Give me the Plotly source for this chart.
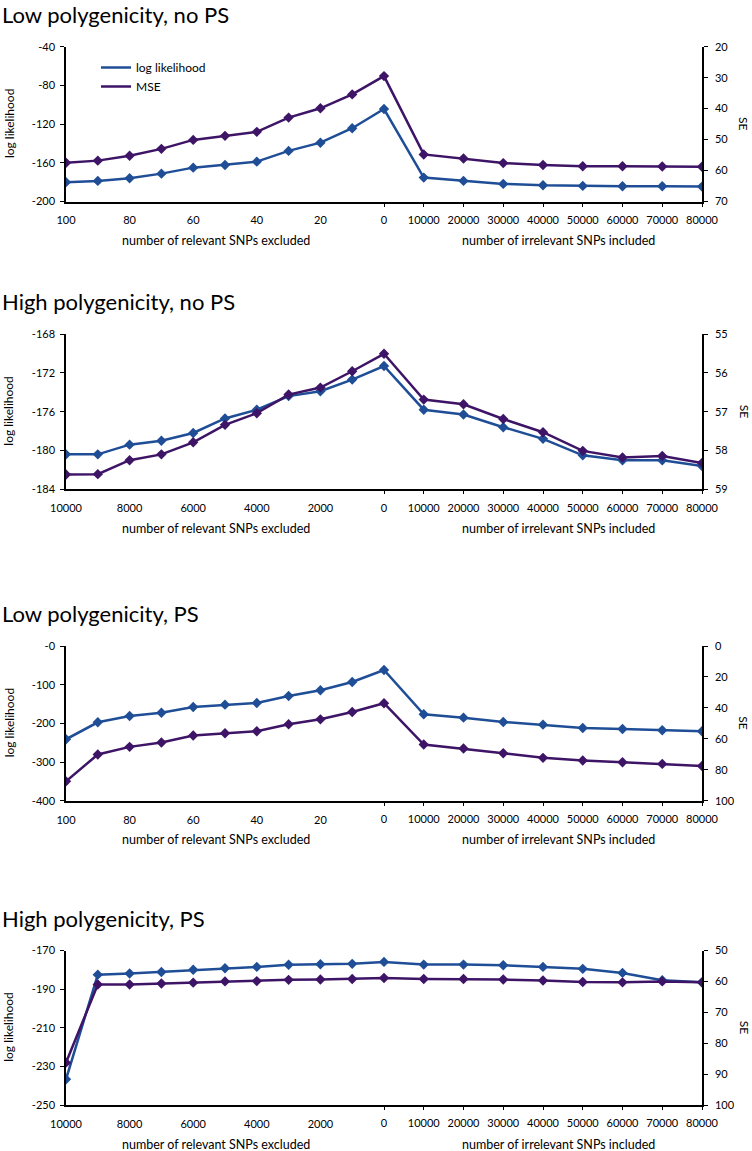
import plotly.graph_objects as go

W, H = 752, 1151

# ---------------- data ----------------
titles = ["Low polygenicity, no PS", "High polygenicity, no PS",
          "Low polygenicity, PS", "High polygenicity, PS"]

rel_low = [100, 90, 80, 70, 60, 50, 40, 30, 20, 10, 0]
rel_high = [10000, 9000, 8000, 7000, 6000, 5000, 4000, 3000, 2000, 1000, 0]
irrelevant = [10000, 20000, 30000, 40000, 50000, 60000, 70000, 80000]

ll_low_nops = [-180, -178.7, -176, -171.2, -165, -162.2, -158.8, -147.7, -139.2, -124.3, -104.4,
               -175.3, -178.7, -181.8, -183.2, -183.9, -184.2, -184.2, -184.6]
mse_low_nops = [57.5, 56.8, 55.2, 53.0, 50.1, 48.8, 47.5, 42.9, 39.9, 35.4, 29.5,
                54.8, 56.1, 57.6, 58.2, 58.6, 58.6, 58.7, 58.8]

ll_high_nops = [-180.4, -180.4, -179.4, -179.0, -178.2, -176.7, -175.8, -174.4, -173.9, -172.7, -171.3,
                -175.8, -176.3, -177.6, -178.8, -180.5, -181.0, -181.0, -181.6]
mse_high_nops = [58.62, 58.61, 58.25, 58.10, 57.79, 57.34, 57.04, 56.56, 56.38, 55.96, 55.51,
                 56.69, 56.81, 57.19, 57.53, 58.01, 58.18, 58.14, 58.32]

ll_low_ps = [-241.2, -197.3, -181, -172.4, -157.7, -151.7, -147.4, -129.3, -114.6, -93.1, -62,
             -176.6, -185.3, -196.5, -203.4, -212, -214.6, -218, -220.6]
mse_low_ps = [87.5, 70.1, 65.2, 62.4, 57.9, 56.4, 55.1, 50.6, 47.4, 42.7, 37.0,
              63.7, 66.3, 69.3, 72.3, 74.0, 75.1, 76.2, 77.6]

ll_high_ps = [-236.7, -182.5, -181.9, -181.1, -180.0, -179.2, -178.5, -177.4, -177.1, -176.9, -175.9,
              -177.3, -177.3, -177.6, -178.5, -179.5, -181.6, -185.4, -186.5]
mse_high_ps = [86.3, 61.0, 61.0, 60.7, 60.4, 60.0, 59.9, 59.5, 59.4, 59.2, 58.9,
               59.2, 59.2, 59.4, 59.7, 60.2, 60.3, 60.0, 60.3]

ll_ticks = [[-200, -160, -120, -80, -40], [-184, -180, -176, -172, -168],
            [-400, -300, -200, -100, 0], [-250, -230, -210, -190, -170]]
se_ranges = [(70, 20, 10), (59, 55, 1), (100, 0, 20), (100, 50, 10)]

panels = [
    (rel_low, ll_low_nops, mse_low_nops),
    (rel_high, ll_high_nops, mse_high_nops),
    (rel_low, ll_low_ps, mse_low_ps),
    (rel_high, ll_high_ps, mse_high_ps),
]

# ---------------- style ----------------
BLUE = "#1F4E97"
PURPLE = "#3E1466"
FONT = "Lato"
X0, X1 = 66 / W, 702 / W
tops_px = [46.7, 334.0, 646.0, 950.5]
bots_px = [201.5, 489.3, 800.7, 1105.0]


def py(px):
    return 1 - px / H


fig = go.Figure()
layout = dict(
    template="none",
    width=W, height=H, margin=dict(l=0, r=0, t=0, b=0, autoexpand=False),
    paper_bgcolor="white", plot_bgcolor="white",
    font=dict(family=FONT, size=11, color="black"),
    showlegend=True,
    legend=dict(x=96 / W, y=py(53), xanchor="left", yanchor="top",
                bgcolor="rgba(0,0,0,0)", font=dict(size=12, family=FONT, color="black"),
                itemwidth=30, tracegroupgap=0),
)
annotations = []

for k, (rel, ll, mse) in enumerate(panels):
    xa, xb = 2 * k + 1, 2 * k + 2
    ya, yb = 2 * k + 1, 2 * k + 2
    n_left = len(rel) - 1
    n_right = len(irrelevant)
    # layout positions: left half holds relevant-SNP steps, right half irrelevant steps
    xpos = [i / n_left for i in range(len(rel))] + [1 + (j + 1) / n_right for j in range(n_right)]

    dom_y = [py(bots_px[k]), py(tops_px[k])]

    fig.add_trace(go.Scatter(x=xpos, y=ll, mode="lines+markers", name="log likelihood",
                             line=dict(color=BLUE, width=2.5),
                             marker=dict(symbol="diamond", size=8, color=BLUE),
                             xaxis=f"x{xa}", yaxis=f"y{ya}", showlegend=False))
    fig.add_trace(go.Scatter(x=xpos, y=mse, mode="lines+markers", name="MSE",
                             line=dict(color=PURPLE, width=2.5),
                             marker=dict(symbol="diamond", size=8, color=PURPLE),
                             xaxis=f"x{xa}", yaxis=f"y{yb}", showlegend=False))
    # invisible carrier so the tick-mark axis of the right half is drawn
    fig.add_trace(go.Scatter(x=xpos, y=ll, mode="markers", marker=dict(opacity=0),
                             hoverinfo="skip", showlegend=False,
                             xaxis=f"x{xb}", yaxis=f"y{ya}"))

    left_vals = [xpos[i] for i in range(0, n_left, 2)]
    left_text = [str(rel[i]) for i in range(0, n_left, 2)]
    right_vals = [xpos[n_left]] + xpos[n_left + 1:]
    right_text = ["0"] + [str(v) for v in irrelevant]

    common_x = dict(range=[0, 2], showgrid=False, zeroline=False, ticklen=4, tickwidth=1.3,
                    ticks="outside", ticklabelstandoff=4, automargin=False,
                    tickfont=dict(size=11, family=FONT, color="black"))
    layout[f"xaxis{xa}"] = dict(domain=[X0, X1], anchor=f"y{ya}", showline=True, linecolor="black",
                                linewidth=1.5, tickmode="array", tickvals=left_vals, ticktext=left_text,
                                tickcolor="rgba(0,0,0,0)", **common_x)
    layout[f"xaxis{xb}"] = dict(overlaying=f"x{xa}", anchor=f"y{ya}", side="bottom", showline=False,
                                tickmode="array", tickvals=right_vals, ticktext=right_text,
                                tickcolor="black", **common_x)

    tv = ll_ticks[k]
    layout[f"yaxis{ya}"] = dict(domain=dom_y, anchor=f"x{xa}", range=[tv[0], tv[-1]],
                                tickmode="array", tickvals=tv, ticktext=[f"-{abs(v)}" for v in tv],
                                showline=True, linecolor="black", linewidth=1.5, ticks="outside",
                                ticklen=4, tickwidth=1.3, tickcolor="black", showgrid=False,
                                zeroline=False, ticklabelstandoff=3, automargin=False,
                                tickfont=dict(size=11, family=FONT, color="black"))
    lo, hi, dt = se_ranges[k]
    layout[f"yaxis{yb}"] = dict(overlaying=f"y{ya}", anchor=f"x{xa}", side="right",
                                range=[lo, hi], dtick=dt, tick0=0, tickmode="linear",
                                showline=True, linecolor="black", linewidth=1.5, ticks="outside",
                                ticklen=4, tickwidth=1.3, tickcolor="black", showgrid=False,
                                zeroline=False, ticklabelstandoff=5, automargin=False,
                                tickfont=dict(size=11, family=FONT, color="black"))

    # panel title
    annotations.append(dict(text=titles[k], x=0, y=py(tops_px[k] - 32.5), xref="paper", yref="paper",
                            xanchor="left", yanchor="middle", showarrow=False,
                            font=dict(size=22, family=FONT, color="black")))
    # axis titles
    ymid = py((tops_px[k] + bots_px[k]) / 2)
    yb_t = py(bots_px[k] + 39)
    annotations.append(dict(text="number of relevant SNPs excluded", x=216 / W, y=yb_t,
                            xref="paper", yref="paper", xanchor="center", yanchor="middle",
                            showarrow=False, font=dict(size=12.5, family=FONT, color="black")))
    annotations.append(dict(text="number of irrelevant SNPs included", x=558 / W, y=yb_t,
                            xref="paper", yref="paper", xanchor="center", yanchor="middle",
                            showarrow=False, font=dict(size=12.5, family=FONT, color="black")))
    annotations.append(dict(text="log likelihood", x=9 / W, y=ymid, xref="paper", yref="paper",
                            xanchor="center", yanchor="middle", textangle=-90, showarrow=False,
                            font=dict(size=12, family=FONT, color="black")))
    annotations.append(dict(text="SE", x=744 / W, y=ymid, xref="paper", yref="paper",
                            xanchor="center", yanchor="middle", textangle=90, showarrow=False,
                            font=dict(size=12, family=FONT, color="black")))

# legend entries (line only, as in the reference)
fig.add_trace(go.Scatter(x=[None], y=[None], mode="lines", name="log likelihood",
                         line=dict(color=BLUE, width=2.5), xaxis="x1", yaxis="y1"))
fig.add_trace(go.Scatter(x=[None], y=[None], mode="lines", name="MSE",
                         line=dict(color=PURPLE, width=2.5), xaxis="x1", yaxis="y1"))

layout["annotations"] = annotations
fig.update_layout(**layout)
fig.write_html("out.html", config={"displayModeBar": False},
               post_script="document.body.style.margin='0';document.body.style.overflow='hidden';")
